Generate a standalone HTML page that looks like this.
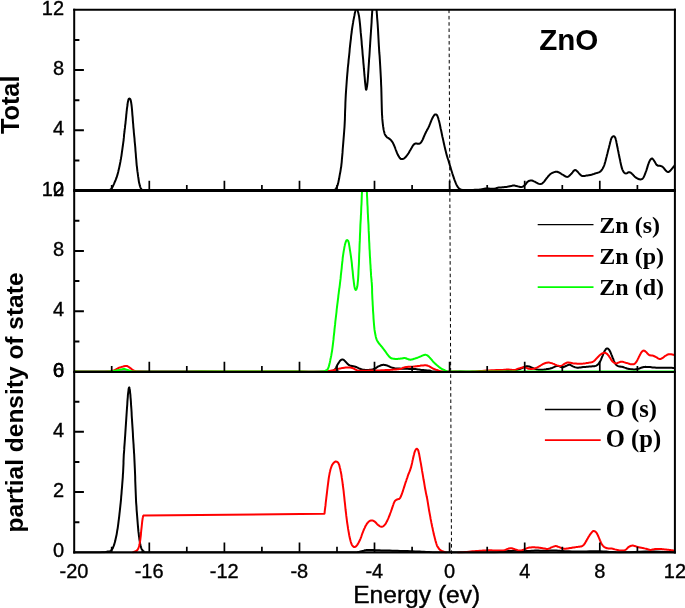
<!DOCTYPE html>
<html lang="en">
<head>
<meta charset="utf-8">
<title>ZnO density of states</title>
<style>
html,body{margin:0;padding:0;background:#fff;}
body{width:685px;height:608px;overflow:hidden;}
svg{display:block;}
</style>
</head>
<body>
<svg width="685" height="608" viewBox="0 0 685 608">
<defs>
<clipPath id="c1"><rect x="74.2" y="9.8" width="600.7" height="181.7"/></clipPath>
<clipPath id="c2"><rect x="74.2" y="190.5" width="600.7" height="182.1"/></clipPath>
<clipPath id="c3"><rect x="74.2" y="371.6" width="600.7" height="181.7"/></clipPath>
</defs>
<rect width="685" height="608" fill="#fff"/>
<line x1="449.0" y1="9.6" x2="451.5" y2="553.9" stroke="#000" stroke-width="1" stroke-dasharray="3.55 2.738" fill="none"/>
<g id="panel1">
<path d="M74.2 190.3 L77.9 190.3 L83.2 190.3 L89.3 190.3 L95.5 190.3 L101.0 190.3 L105.0 190.3 L107.3 190.3 L108.6 190.2 L109.1 190.2 L109.2 190.1 L109.3 190.0 L109.6 189.9 L110.1 189.7 L110.5 189.6 L110.8 189.3 L111.1 189.1 L111.4 188.7 L111.8 188.2 L112.2 187.6 L112.6 186.8 L113.0 186.0 L113.4 185.1 L113.9 184.1 L114.3 183.1 L114.7 182.1 L115.2 181.0 L115.7 179.9 L116.1 178.7 L116.6 177.5 L117.0 176.2 L117.4 174.9 L117.8 173.5 L118.2 172.0 L118.5 170.5 L118.9 169.1 L119.2 167.6 L119.5 166.2 L119.8 164.7 L120.1 163.3 L120.4 161.9 L120.6 160.4 L120.9 159.0 L121.1 157.6 L121.4 156.1 L121.6 154.7 L121.8 153.2 L122.0 151.7 L122.2 150.3 L122.4 148.9 L122.6 147.4 L122.8 146.0 L123.0 144.6 L123.2 143.1 L123.4 141.7 L123.6 140.3 L123.7 138.8 L123.9 137.4 L124.0 136.0 L124.1 134.5 L124.3 133.1 L124.5 131.7 L124.6 130.2 L124.8 128.8 L125.0 127.4 L125.1 125.9 L125.3 124.5 L125.5 123.1 L125.6 121.6 L125.8 120.2 L125.9 118.7 L126.1 117.3 L126.2 115.9 L126.3 114.5 L126.5 113.1 L126.6 111.7 L126.8 110.3 L126.9 108.9 L127.1 107.6 L127.3 106.3 L127.5 105.0 L127.6 103.7 L127.8 102.5 L128.0 101.5 L128.2 100.6 L128.4 99.9 L128.6 99.4 L128.7 99.0 L128.9 98.8 L129.1 98.6 L129.3 98.6 L129.5 98.6 L129.8 98.7 L130.0 99.0 L130.3 99.3 L130.6 99.9 L130.8 100.7 L131.0 101.7 L131.2 102.8 L131.4 104.2 L131.6 105.7 L131.8 107.5 L132.0 109.6 L132.2 112.0 L132.4 114.9 L132.7 117.9 L132.9 121.1 L133.2 124.3 L133.4 127.3 L133.7 130.2 L133.9 133.0 L134.2 135.9 L134.5 138.7 L134.7 141.6 L135.0 144.5 L135.3 147.6 L135.5 150.8 L135.8 154.0 L136.0 157.2 L136.3 160.2 L136.5 162.9 L136.7 165.3 L137.0 167.4 L137.2 169.4 L137.4 171.2 L137.7 173.0 L137.9 174.7 L138.1 176.4 L138.4 178.0 L138.6 179.5 L138.8 181.0 L139.0 182.3 L139.3 183.5 L139.6 184.6 L139.8 185.6 L140.1 186.5 L140.4 187.3 L140.7 188.0 L141.0 188.6 L141.3 189.1 L141.6 189.4 L141.9 189.7 L142.2 189.8 L142.6 190.0 L143.0 190.1 L142.9 190.2 L142.0 190.3 L141.2 190.3 L141.2 190.3 L142.5 190.3 L146.0 190.3 L151.5 190.3 L158.5 190.3 L166.9 190.3 L176.7 190.3 L187.7 190.3 L200.0 190.3 L214.8 190.3 L232.5 190.3 L251.4 190.3 L270.1 190.3 L286.8 190.3 L300.0 190.3 L309.5 190.3 L316.4 190.3 L321.5 190.3 L325.2 190.4 L328.2 190.3 L331.0 190.3 L333.3 190.2 L334.4 190.2 L334.8 190.1 L334.8 190.0 L334.8 189.8 L335.0 189.6 L335.4 189.4 L335.7 189.1 L336.0 188.8 L336.2 188.4 L336.4 188.0 L336.6 187.5 L336.9 187.0 L337.1 186.5 L337.3 185.9 L337.6 185.3 L337.8 184.4 L338.1 183.4 L338.4 182.1 L338.7 180.5 L339.1 178.8 L339.4 176.9 L339.7 175.2 L340.0 173.5 L340.3 172.1 L340.5 170.8 L340.7 169.6 L340.9 168.2 L341.2 166.6 L341.4 164.6 L341.7 162.1 L341.9 159.3 L342.2 156.2 L342.5 152.9 L342.7 149.5 L343.0 146.0 L343.3 142.4 L343.6 138.7 L343.9 134.9 L344.2 131.0 L344.5 127.0 L344.7 123.1 L344.9 119.1 L345.0 115.1 L345.1 111.1 L345.3 107.0 L345.4 102.9 L345.6 98.8 L345.8 94.6 L346.1 90.3 L346.4 86.0 L346.7 81.7 L347.0 77.7 L347.3 74.1 L347.6 70.9 L347.8 68.0 L348.1 65.3 L348.4 62.8 L348.6 60.2 L348.9 57.6 L349.2 54.8 L349.5 52.0 L349.7 49.2 L350.0 46.4 L350.3 43.7 L350.6 41.2 L350.9 38.8 L351.1 36.4 L351.4 34.2 L351.7 32.0 L351.9 30.0 L352.2 28.0 L352.5 26.1 L352.8 24.4 L353.1 22.7 L353.3 21.1 L353.6 19.6 L353.9 18.1 L354.2 16.6 L354.5 15.2 L354.7 13.8 L355.0 12.5 L355.3 11.3 L355.5 10.2 L355.7 9.2 L355.9 8.2 L356.1 7.3 L356.3 6.6 L356.4 6.2 L356.6 6.0 L356.8 6.2 L356.9 6.6 L357.1 7.3 L357.3 8.2 L357.5 9.2 L357.7 10.2 L357.9 11.3 L358.2 12.4 L358.5 13.7 L358.8 15.1 L359.1 16.5 L359.3 18.1 L359.5 19.7 L359.7 21.4 L359.9 23.2 L360.1 25.1 L360.3 27.3 L360.5 29.6 L360.7 32.2 L361.0 35.1 L361.3 38.2 L361.6 41.4 L361.8 44.6 L362.1 47.7 L362.4 50.7 L362.6 53.8 L362.9 56.9 L363.2 59.9 L363.4 62.9 L363.7 65.8 L363.9 68.7 L364.2 71.8 L364.4 74.7 L364.7 77.5 L364.9 80.1 L365.1 82.3 L365.3 84.2 L365.5 86.0 L365.7 87.5 L365.8 88.7 L366.0 89.4 L366.2 89.7 L366.4 89.4 L366.6 88.7 L366.8 87.5 L367.1 86.0 L367.3 84.2 L367.5 82.3 L367.7 80.1 L367.9 77.6 L368.1 74.8 L368.3 71.9 L368.5 68.8 L368.7 65.8 L368.9 62.7 L369.1 59.4 L369.4 56.0 L369.6 52.7 L369.8 49.3 L370.0 46.1 L370.2 43.0 L370.4 39.9 L370.6 36.9 L370.8 34.0 L371.0 31.0 L371.2 28.0 L371.4 25.1 L371.6 22.2 L371.7 19.4 L371.9 16.4 L372.1 13.4 L372.3 10.2 L372.5 6.6 L372.7 2.5 L372.9 -1.6 L373.1 -5.6 L373.3 -9.2 L373.5 -12.0 L373.7 -14.1 L373.8 -15.6 L374.0 -16.8 L374.2 -17.5 L374.3 -17.9 L374.5 -18.0 L374.7 -17.9 L374.8 -17.5 L375.0 -16.8 L375.2 -15.6 L375.3 -14.1 L375.5 -12.0 L375.7 -9.1 L375.9 -5.5 L376.0 -1.4 L376.2 2.8 L376.4 6.8 L376.6 10.2 L376.8 13.0 L377.0 15.3 L377.1 17.5 L377.3 19.6 L377.5 22.0 L377.7 24.7 L377.9 27.9 L378.1 31.4 L378.3 35.1 L378.5 38.8 L378.7 42.6 L378.9 46.1 L379.1 49.5 L379.3 52.7 L379.6 55.9 L379.8 59.1 L380.0 62.4 L380.2 65.8 L380.4 69.3 L380.6 73.0 L380.8 76.7 L381.0 80.4 L381.1 84.2 L381.3 88.0 L381.4 91.9 L381.5 96.1 L381.6 100.3 L381.7 104.3 L381.8 108.1 L381.9 111.4 L382.0 114.2 L382.2 116.7 L382.3 118.9 L382.5 120.9 L382.7 122.8 L382.9 124.6 L383.1 126.4 L383.4 128.0 L383.6 129.5 L383.9 130.9 L384.2 132.1 L384.5 133.2 L384.8 134.1 L385.1 134.8 L385.4 135.3 L385.7 135.8 L386.1 136.2 L386.5 136.7 L387.0 137.2 L387.5 137.6 L388.1 137.9 L388.7 138.3 L389.3 138.7 L389.8 139.1 L390.3 139.5 L390.7 139.9 L391.1 140.3 L391.5 140.8 L391.9 141.3 L392.3 141.9 L392.7 142.6 L393.1 143.3 L393.5 144.1 L393.9 145.0 L394.3 145.9 L394.7 146.8 L395.1 147.8 L395.5 149.0 L395.9 150.1 L396.4 151.3 L396.8 152.4 L397.2 153.4 L397.6 154.3 L398.0 155.1 L398.5 155.9 L398.9 156.6 L399.3 157.3 L399.7 157.8 L400.1 158.2 L400.4 158.6 L400.7 158.8 L401.1 159.0 L401.4 159.1 L401.8 159.1 L402.2 159.1 L402.7 159.0 L403.1 158.9 L403.6 158.7 L404.1 158.4 L404.6 158.0 L405.1 157.5 L405.7 157.0 L406.2 156.4 L406.8 155.7 L407.3 155.0 L407.9 154.2 L408.5 153.3 L409.0 152.4 L409.6 151.3 L410.2 150.3 L410.7 149.4 L411.2 148.5 L411.7 147.7 L412.1 147.0 L412.5 146.3 L412.9 145.7 L413.3 145.2 L413.7 144.7 L414.1 144.3 L414.4 144.0 L414.8 143.8 L415.1 143.6 L415.4 143.5 L415.8 143.4 L416.2 143.4 L416.6 143.4 L417.0 143.6 L417.3 143.7 L417.7 143.8 L418.1 143.8 L418.5 143.8 L418.8 143.8 L419.2 143.7 L419.5 143.6 L419.8 143.5 L420.2 143.2 L420.6 142.9 L420.9 142.5 L421.3 142.1 L421.6 141.5 L422.0 140.9 L422.4 140.2 L422.8 139.3 L423.3 138.3 L423.7 137.2 L424.2 136.0 L424.7 134.8 L425.2 133.7 L425.7 132.7 L426.3 131.6 L426.8 130.6 L427.4 129.6 L427.9 128.5 L428.5 127.4 L429.1 126.2 L429.6 124.8 L430.2 123.4 L430.7 122.1 L431.2 120.8 L431.7 119.7 L432.1 118.8 L432.5 118.0 L432.9 117.2 L433.2 116.6 L433.6 116.1 L433.9 115.6 L434.2 115.2 L434.5 114.9 L434.7 114.7 L435.0 114.5 L435.2 114.4 L435.5 114.4 L435.8 114.4 L436.1 114.5 L436.3 114.6 L436.6 114.8 L436.9 115.1 L437.2 115.6 L437.5 116.2 L437.8 117.0 L438.1 117.8 L438.4 118.8 L438.7 120.0 L439.1 121.3 L439.5 122.9 L439.9 124.7 L440.3 126.7 L440.7 128.8 L441.2 130.8 L441.6 132.8 L442.0 134.7 L442.4 136.7 L442.9 138.7 L443.3 140.6 L443.7 142.5 L444.1 144.3 L444.5 146.1 L444.9 147.8 L445.3 149.5 L445.7 151.1 L446.1 152.7 L446.5 154.2 L446.9 155.7 L447.3 157.1 L447.7 158.4 L448.2 159.7 L448.6 161.0 L449.0 162.4 L449.4 163.8 L449.8 165.2 L450.3 166.6 L450.7 168.0 L451.1 169.4 L451.5 170.7 L451.9 172.0 L452.3 173.3 L452.7 174.5 L453.1 175.7 L453.5 176.9 L453.9 178.1 L454.3 179.3 L454.7 180.4 L455.2 181.6 L455.6 182.7 L456.0 183.7 L456.4 184.6 L456.8 185.4 L457.2 186.0 L457.5 186.6 L457.9 187.1 L458.3 187.6 L458.6 188.0 L458.9 188.4 L459.2 188.7 L459.5 188.9 L459.8 189.2 L460.2 189.3 L460.5 189.5 L460.8 189.6 L461.1 189.7 L461.4 189.8 L461.8 189.8 L462.3 189.9 L463.0 189.9 L463.9 189.9 L464.9 189.9 L466.1 189.9 L467.3 189.9 L468.6 189.9 L470.0 189.9 L471.5 189.9 L473.1 189.9 L474.8 189.8 L476.4 189.8 L478.0 189.7 L479.5 189.6 L480.8 189.4 L482.0 189.2 L483.2 189.0 L484.3 188.8 L485.4 188.6 L486.5 188.5 L487.7 188.5 L488.9 188.6 L490.1 188.7 L491.3 188.8 L492.4 188.8 L493.5 188.8 L494.5 188.7 L495.3 188.5 L496.1 188.3 L497.0 188.0 L497.8 187.8 L498.8 187.6 L499.9 187.5 L501.1 187.4 L502.4 187.3 L503.6 187.2 L504.8 187.1 L505.8 187.0 L506.7 186.9 L507.5 186.7 L508.2 186.6 L508.9 186.5 L509.5 186.3 L510.2 186.2 L510.8 186.1 L511.4 185.9 L512.0 185.8 L512.6 185.6 L513.1 185.5 L513.7 185.5 L514.3 185.5 L514.8 185.6 L515.4 185.8 L516.0 185.9 L516.6 186.1 L517.2 186.2 L517.9 186.4 L518.6 186.6 L519.4 186.8 L520.2 187.0 L520.9 187.1 L521.6 187.1 L522.2 186.9 L522.9 186.6 L523.5 186.2 L524.0 185.7 L524.6 185.3 L525.1 184.8 L525.6 184.3 L526.0 183.8 L526.4 183.2 L526.8 182.6 L527.2 182.1 L527.7 181.7 L528.2 181.3 L528.8 181.0 L529.4 180.8 L530.0 180.6 L530.6 180.4 L531.2 180.4 L531.8 180.5 L532.3 180.6 L532.8 180.8 L533.4 181.1 L534.0 181.4 L534.7 181.7 L535.5 182.1 L536.4 182.6 L537.4 183.1 L538.3 183.6 L539.2 183.9 L540.0 184.1 L540.7 184.1 L541.3 183.9 L541.9 183.6 L542.4 183.2 L542.9 182.7 L543.5 182.2 L544.1 181.6 L544.7 180.9 L545.2 180.1 L545.8 179.3 L546.4 178.5 L547.0 177.8 L547.6 177.1 L548.1 176.4 L548.7 175.8 L549.3 175.1 L549.9 174.5 L550.5 174.0 L551.2 173.5 L551.9 173.1 L552.7 172.7 L553.5 172.4 L554.2 172.1 L554.9 171.9 L555.5 171.8 L556.1 171.7 L556.7 171.8 L557.2 171.8 L557.8 172.0 L558.4 172.2 L559.1 172.5 L559.8 172.9 L560.5 173.3 L561.2 173.8 L562.0 174.3 L562.7 174.7 L563.5 175.1 L564.2 175.6 L565.0 176.1 L565.8 176.6 L566.6 176.8 L567.3 176.9 L568.0 176.7 L568.7 176.3 L569.3 175.8 L569.9 175.2 L570.5 174.6 L571.1 174.0 L571.6 173.5 L572.1 172.9 L572.6 172.3 L573.0 171.7 L573.4 171.2 L573.8 170.8 L574.1 170.5 L574.4 170.3 L574.7 170.2 L574.9 170.1 L575.2 170.1 L575.5 170.1 L575.8 170.2 L576.2 170.4 L576.5 170.7 L576.9 171.0 L577.2 171.3 L577.6 171.7 L578.0 172.1 L578.3 172.5 L578.7 173.0 L579.1 173.5 L579.5 173.9 L579.9 174.3 L580.3 174.7 L580.7 175.0 L581.1 175.4 L581.5 175.7 L582.0 175.9 L582.5 176.1 L583.1 176.1 L583.8 176.1 L584.6 176.0 L585.4 175.8 L586.1 175.6 L586.9 175.5 L587.6 175.4 L588.4 175.3 L589.1 175.2 L589.8 175.1 L590.6 175.0 L591.3 174.8 L592.0 174.6 L592.8 174.3 L593.6 174.1 L594.3 173.8 L595.0 173.5 L595.7 173.3 L596.3 173.1 L597.0 172.9 L597.6 172.8 L598.1 172.6 L598.7 172.4 L599.2 172.2 L599.7 171.9 L600.1 171.6 L600.6 171.3 L601.0 170.9 L601.4 170.5 L601.8 169.9 L602.2 169.3 L602.7 168.5 L603.1 167.8 L603.5 166.9 L604.0 165.9 L604.4 164.7 L604.8 163.4 L605.3 161.8 L605.7 160.2 L606.1 158.5 L606.6 156.7 L607.0 155.0 L607.5 153.2 L607.9 151.4 L608.4 149.5 L608.9 147.7 L609.3 146.0 L609.7 144.5 L610.0 143.2 L610.3 142.0 L610.6 140.9 L610.8 140.0 L611.1 139.1 L611.4 138.4 L611.7 137.8 L612.1 137.2 L612.4 136.8 L612.8 136.5 L613.2 136.4 L613.5 136.3 L613.8 136.3 L614.2 136.4 L614.5 136.6 L614.8 137.0 L615.2 137.6 L615.5 138.4 L615.8 139.6 L616.2 141.0 L616.5 142.7 L616.9 144.5 L617.2 146.3 L617.6 148.0 L617.9 149.7 L618.3 151.5 L618.6 153.2 L619.0 155.0 L619.3 156.8 L619.7 158.5 L620.1 160.2 L620.4 162.0 L620.8 163.7 L621.2 165.4 L621.5 166.9 L621.9 168.2 L622.3 169.3 L622.7 170.2 L623.1 171.0 L623.4 171.6 L623.8 172.1 L624.2 172.6 L624.6 173.0 L624.9 173.2 L625.2 173.3 L625.6 173.4 L625.9 173.4 L626.3 173.4 L626.7 173.3 L627.1 173.1 L627.6 172.8 L628.0 172.5 L628.5 172.3 L628.9 172.2 L629.3 172.2 L629.8 172.3 L630.2 172.5 L630.6 172.7 L631.1 173.0 L631.6 173.4 L632.1 173.9 L632.7 174.4 L633.3 175.1 L633.9 175.8 L634.5 176.4 L635.1 176.9 L635.7 177.4 L636.3 177.8 L636.9 178.2 L637.5 178.5 L638.0 178.8 L638.6 179.0 L639.2 179.2 L639.7 179.3 L640.2 179.4 L640.8 179.4 L641.2 179.3 L641.7 179.2 L642.1 179.0 L642.5 178.7 L642.8 178.4 L643.1 178.0 L643.5 177.5 L643.8 176.9 L644.1 176.2 L644.5 175.4 L644.8 174.6 L645.2 173.7 L645.5 172.7 L645.9 171.7 L646.3 170.6 L646.7 169.4 L647.1 168.1 L647.5 166.9 L647.8 165.7 L648.2 164.7 L648.5 163.8 L648.8 162.9 L649.1 162.2 L649.4 161.5 L649.7 160.9 L650.0 160.3 L650.3 159.8 L650.7 159.3 L651.0 159.0 L651.4 158.7 L651.7 158.5 L652.1 158.5 L652.5 158.7 L652.8 159.0 L653.2 159.5 L653.6 160.0 L654.0 160.6 L654.4 161.2 L654.8 161.8 L655.2 162.6 L655.6 163.3 L656.1 164.1 L656.5 164.7 L657.0 165.2 L657.5 165.5 L658.1 165.7 L658.8 165.7 L659.4 165.7 L660.0 165.8 L660.5 165.9 L661.0 166.1 L661.4 166.2 L661.9 166.4 L662.3 166.7 L662.7 167.0 L663.1 167.3 L663.5 167.7 L664.0 168.3 L664.4 168.9 L664.8 169.5 L665.3 170.0 L665.7 170.5 L666.1 170.9 L666.6 171.3 L667.1 171.6 L667.5 171.8 L668.0 172.0 L668.4 172.0 L668.8 171.9 L669.2 171.7 L669.6 171.4 L670.0 170.9 L670.5 170.5 L671.0 169.9 L671.6 169.2 L672.3 168.3 L673.1 167.3 L673.8 166.4 L674.5 165.6 L674.9 165.0" fill="none" stroke="#000" stroke-width="2.0" stroke-linejoin="round" stroke-linecap="round" clip-path="url(#c1)"/>
</g>
<g id="panel2">
<path d="M74.2 371.6 L87.9 371.6 L106.7 371.6 L129.1 371.6 L153.2 371.6 L177.5 371.6 L200.0 371.6 L222.6 371.7 L247.1 371.7 L271.6 371.7 L294.4 371.7 L313.8 371.7 L328.0 371.6 L335.9 371.6 L338.6 371.5 L338.0 371.4 L335.6 371.3 L333.1 371.1 L332.3 370.9 L332.9 370.7 L333.4 370.4 L333.9 370.1 L334.4 369.8 L334.8 369.4 L335.2 369.0 L335.6 368.5 L335.9 368.0 L336.2 367.4 L336.4 366.9 L336.7 366.3 L337.0 365.7 L337.3 365.1 L337.6 364.6 L337.9 364.0 L338.3 363.4 L338.6 362.9 L338.9 362.4 L339.2 362.0 L339.5 361.5 L339.8 361.1 L340.1 360.8 L340.4 360.5 L340.7 360.2 L341.0 360.0 L341.3 359.8 L341.6 359.7 L341.8 359.6 L342.1 359.5 L342.4 359.5 L342.7 359.5 L343.0 359.6 L343.2 359.7 L343.5 359.8 L343.8 360.0 L344.1 360.2 L344.4 360.5 L344.8 360.8 L345.1 361.2 L345.5 361.6 L345.8 362.0 L346.2 362.4 L346.6 362.8 L346.9 363.2 L347.3 363.6 L347.7 363.9 L348.0 364.3 L348.4 364.6 L348.7 364.9 L349.0 365.1 L349.4 365.2 L349.7 365.4 L350.1 365.6 L350.5 365.7 L351.0 365.8 L351.6 366.0 L352.3 366.1 L353.0 366.2 L353.6 366.3 L354.2 366.4 L354.7 366.5 L355.2 366.7 L355.7 366.9 L356.2 367.0 L356.6 367.2 L357.1 367.4 L357.6 367.6 L358.1 367.9 L358.5 368.1 L359.0 368.4 L359.5 368.6 L360.0 368.8 L360.5 369.0 L360.9 369.2 L361.4 369.3 L361.9 369.5 L362.4 369.6 L363.0 369.7 L363.6 369.8 L364.3 369.8 L365.1 369.9 L365.8 369.9 L366.6 369.9 L367.3 369.9 L368.0 369.9 L368.8 369.9 L369.6 369.8 L370.3 369.8 L371.0 369.7 L371.7 369.6 L372.3 369.5 L372.9 369.4 L373.4 369.2 L373.9 369.0 L374.5 368.8 L375.0 368.6 L375.6 368.3 L376.1 367.9 L376.6 367.5 L377.2 367.1 L377.8 366.7 L378.4 366.4 L379.1 366.1 L379.8 365.8 L380.5 365.5 L381.2 365.2 L381.9 365.0 L382.6 364.9 L383.2 364.8 L383.8 364.8 L384.3 364.9 L384.8 365.0 L385.3 365.1 L385.8 365.2 L386.3 365.3 L386.7 365.4 L387.1 365.6 L387.6 365.7 L388.0 365.9 L388.5 366.1 L389.0 366.3 L389.6 366.6 L390.1 366.9 L390.7 367.1 L391.3 367.4 L392.0 367.6 L392.7 367.8 L393.3 368.0 L394.0 368.1 L394.7 368.3 L395.6 368.4 L396.7 368.5 L398.0 368.6 L399.5 368.6 L401.1 368.7 L402.7 368.7 L404.4 368.8 L406.0 368.8 L407.6 368.8 L409.2 368.9 L410.8 368.9 L412.4 369.0 L414.0 369.0 L415.4 369.1 L416.7 369.2 L417.9 369.4 L419.0 369.5 L420.2 369.7 L421.3 369.9 L422.4 370.0 L423.6 370.1 L424.7 370.2 L425.9 370.3 L427.1 370.4 L428.2 370.5 L429.4 370.6 L430.4 370.8 L431.1 371.0 L431.9 371.2 L432.8 371.4 L434.3 371.5 L436.4 371.6 L439.2 371.7 L442.4 371.7 L446.1 371.7 L450.3 371.7 L454.9 371.7 L460.0 371.6 L466.1 371.7 L473.3 371.7 L480.9 371.7 L488.4 371.7 L494.9 371.7 L500.0 371.6 L503.3 371.5 L505.4 371.3 L506.7 371.1 L507.4 370.9 L508.1 370.7 L509.0 370.6 L510.1 370.5 L511.1 370.5 L512.0 370.5 L512.9 370.4 L513.7 370.4 L514.6 370.3 L515.5 370.2 L516.4 370.0 L517.2 369.8 L518.1 369.6 L518.9 369.4 L519.8 369.1 L520.7 368.7 L521.6 368.3 L522.6 367.8 L523.5 367.3 L524.3 366.9 L525.1 366.6 L525.8 366.4 L526.4 366.3 L527.0 366.3 L527.5 366.3 L528.0 366.3 L528.6 366.4 L529.2 366.5 L529.8 366.7 L530.4 366.9 L530.9 367.2 L531.5 367.5 L532.1 367.7 L532.7 367.9 L533.2 368.2 L533.8 368.4 L534.4 368.7 L535.0 368.9 L535.6 369.1 L536.3 369.3 L536.9 369.4 L537.6 369.6 L538.4 369.7 L539.2 369.8 L540.0 369.8 L540.9 369.8 L541.9 369.8 L542.9 369.7 L543.9 369.6 L545.0 369.4 L546.0 369.3 L547.0 369.1 L548.1 368.9 L549.2 368.7 L550.2 368.5 L551.1 368.2 L552.0 368.0 L552.7 367.7 L553.4 367.4 L553.9 367.1 L554.5 366.9 L555.0 366.6 L555.5 366.4 L556.0 366.2 L556.5 366.1 L557.0 366.0 L557.4 365.9 L557.9 365.9 L558.4 365.9 L558.9 366.1 L559.5 366.3 L560.1 366.6 L560.7 366.9 L561.3 367.2 L561.9 367.3 L562.5 367.3 L563.0 367.2 L563.6 367.0 L564.2 366.8 L564.8 366.5 L565.4 366.3 L566.0 366.0 L566.7 365.7 L567.4 365.3 L568.1 365.0 L568.8 364.8 L569.4 364.7 L570.0 364.8 L570.6 365.0 L571.1 365.4 L571.7 365.7 L572.3 366.1 L572.9 366.4 L573.6 366.7 L574.2 366.9 L574.9 367.2 L575.6 367.4 L576.4 367.6 L577.3 367.7 L578.3 367.7 L579.4 367.6 L580.6 367.5 L581.9 367.3 L583.1 367.1 L584.3 367.0 L585.5 366.9 L586.7 366.8 L588.0 366.7 L589.2 366.6 L590.3 366.5 L591.3 366.4 L592.2 366.3 L593.0 366.3 L593.7 366.3 L594.4 366.2 L595.0 366.1 L595.7 365.9 L596.3 365.6 L597.0 365.2 L597.6 364.7 L598.1 364.2 L598.7 363.6 L599.2 362.9 L599.7 362.2 L600.1 361.4 L600.6 360.5 L601.0 359.6 L601.4 358.6 L601.8 357.7 L602.2 356.7 L602.7 355.6 L603.1 354.5 L603.5 353.4 L604.0 352.4 L604.4 351.5 L604.8 350.7 L605.3 350.0 L605.7 349.4 L606.1 348.9 L606.6 348.6 L607.0 348.4 L607.4 348.4 L607.9 348.6 L608.4 349.0 L608.8 349.5 L609.3 350.0 L609.7 350.7 L610.1 351.5 L610.6 352.5 L611.0 353.5 L611.4 354.6 L611.9 355.7 L612.3 356.8 L612.7 357.9 L613.2 358.9 L613.6 360.0 L614.0 361.1 L614.5 362.1 L614.9 362.9 L615.3 363.6 L615.7 364.2 L616.1 364.7 L616.5 365.2 L617.0 365.5 L617.6 365.9 L618.3 366.2 L619.1 366.4 L620.0 366.5 L621.0 366.7 L621.9 366.8 L622.8 367.0 L623.7 367.3 L624.5 367.6 L625.4 367.9 L626.3 368.2 L627.2 368.5 L628.1 368.7 L629.1 368.9 L630.1 369.1 L631.2 369.2 L632.3 369.3 L633.3 369.4 L634.2 369.4 L635.0 369.4 L635.8 369.3 L636.5 369.2 L637.1 369.1 L637.8 368.9 L638.6 368.7 L639.4 368.5 L640.3 368.1 L641.1 367.8 L642.0 367.5 L642.9 367.2 L643.8 367.0 L644.7 366.9 L645.5 366.8 L646.3 366.9 L647.2 366.9 L648.1 366.9 L649.1 367.0 L650.2 367.1 L651.3 367.2 L652.5 367.4 L653.7 367.5 L654.9 367.6 L656.1 367.7 L657.3 367.7 L658.4 367.8 L659.6 367.7 L660.8 367.7 L661.9 367.7 L663.1 367.7 L664.3 367.7 L665.5 367.7 L666.7 367.7 L667.9 367.7 L669.1 367.7 L670.1 367.7 L671.1 367.8 L672.0 367.8 L672.9 367.9 L673.7 368.1 L674.4 368.1 L674.9 368.2" fill="none" stroke="#000" stroke-width="2.0" stroke-linejoin="round" stroke-linecap="round" clip-path="url(#c2)"/>
<path d="M74.2 371.6 L78.4 371.7 L84.4 371.7 L91.4 371.7 L98.5 371.7 L104.6 371.7 L109.0 371.6 L111.4 371.6 L112.4 371.5 L112.6 371.4 L112.3 371.3 L112.0 371.2 L112.2 371.0 L112.7 370.8 L113.3 370.6 L113.8 370.4 L114.4 370.1 L114.9 369.9 L115.5 369.6 L116.1 369.3 L116.7 369.0 L117.3 368.7 L117.9 368.3 L118.5 368.0 L119.2 367.7 L119.9 367.4 L120.8 367.2 L121.6 366.9 L122.4 366.7 L123.2 366.5 L123.9 366.3 L124.5 366.2 L125.0 366.0 L125.5 366.0 L125.9 365.9 L126.3 365.9 L126.8 366.0 L127.3 366.1 L127.8 366.4 L128.2 366.6 L128.7 366.9 L129.2 367.3 L129.7 367.6 L130.2 368.0 L130.7 368.4 L131.2 368.8 L131.7 369.2 L132.1 369.6 L132.6 369.9 L133.0 370.2 L133.4 370.4 L133.8 370.6 L134.2 370.7 L134.6 370.9 L135.0 371.0 L134.8 371.1 L133.8 371.3 L132.8 371.4 L132.6 371.5 L134.1 371.6 L138.0 371.6 L144.5 371.7 L152.9 371.7 L162.9 371.7 L174.3 371.7 L186.8 371.7 L200.0 371.6 L215.3 371.6 L233.3 371.6 L252.3 371.6 L270.8 371.6 L287.2 371.6 L300.0 371.6 L308.7 371.7 L314.7 371.7 L318.5 371.7 L321.0 371.7 L322.9 371.7 L325.0 371.6 L326.9 371.6 L328.0 371.5 L328.5 371.3 L328.7 371.2 L328.9 371.0 L329.4 370.9 L330.1 370.8 L330.9 370.7 L331.6 370.6 L332.3 370.5 L333.1 370.4 L333.8 370.2 L334.5 370.0 L335.2 369.8 L335.9 369.6 L336.7 369.3 L337.4 369.1 L338.1 368.9 L338.8 368.7 L339.6 368.6 L340.3 368.4 L341.0 368.3 L341.8 368.1 L342.5 368.0 L343.2 367.9 L344.0 367.8 L344.7 367.7 L345.5 367.6 L346.2 367.5 L346.9 367.5 L347.6 367.5 L348.2 367.5 L348.8 367.5 L349.4 367.5 L349.9 367.5 L350.5 367.6 L351.0 367.7 L351.6 367.8 L352.1 368.0 L352.6 368.1 L353.1 368.3 L353.5 368.5 L353.9 368.7 L354.3 368.9 L354.7 369.1 L355.0 369.3 L355.3 369.5 L355.7 369.7 L356.0 369.9 L356.3 370.0 L356.7 370.2 L357.0 370.3 L357.4 370.4 L357.8 370.5 L358.2 370.6 L358.6 370.7 L359.1 370.7 L359.6 370.8 L360.4 370.8 L361.5 370.8 L363.0 370.8 L364.9 370.7 L367.0 370.7 L369.2 370.6 L371.3 370.6 L373.2 370.5 L374.9 370.5 L376.5 370.4 L378.1 370.4 L379.6 370.4 L381.1 370.3 L382.6 370.3 L384.1 370.2 L385.6 370.1 L387.1 370.1 L388.5 370.0 L389.7 369.9 L390.8 369.8 L391.6 369.7 L392.2 369.7 L392.7 369.7 L393.1 369.6 L393.6 369.6 L394.3 369.5 L395.2 369.4 L396.2 369.4 L397.2 369.3 L398.3 369.2 L399.3 369.1 L400.2 369.0 L400.9 368.8 L401.5 368.6 L402.1 368.3 L402.6 368.0 L403.1 367.8 L403.7 367.6 L404.3 367.4 L404.8 367.3 L405.3 367.2 L405.9 367.1 L406.5 367.0 L407.2 366.9 L408.0 366.8 L409.0 366.8 L409.9 366.8 L411.0 366.8 L412.0 366.8 L413.0 366.7 L414.0 366.6 L414.9 366.5 L415.9 366.3 L416.9 366.2 L417.9 366.0 L418.9 365.9 L420.0 365.8 L421.1 365.6 L422.2 365.5 L423.4 365.4 L424.4 365.3 L425.3 365.3 L426.0 365.3 L426.7 365.4 L427.2 365.5 L427.7 365.7 L428.2 365.9 L428.8 366.1 L429.4 366.4 L430.1 366.8 L430.8 367.2 L431.5 367.7 L432.2 368.1 L432.9 368.5 L433.6 368.8 L434.4 369.1 L435.2 369.4 L436.0 369.7 L436.8 369.9 L437.6 370.2 L438.3 370.5 L438.8 370.8 L439.4 371.0 L440.1 371.3 L441.0 371.5 L442.2 371.6 L443.8 371.7 L445.7 371.8 L447.8 371.7 L450.1 371.7 L452.5 371.7 L455.0 371.6 L457.7 371.7 L460.6 371.7 L463.7 371.7 L466.8 371.7 L469.7 371.7 L472.5 371.6 L475.0 371.5 L477.4 371.3 L479.7 371.1 L482.0 370.9 L484.2 370.7 L486.5 370.5 L488.9 370.4 L491.5 370.3 L494.0 370.2 L496.4 370.1 L498.7 370.1 L500.6 370.0 L502.2 369.9 L503.5 369.8 L504.5 369.7 L505.5 369.7 L506.5 369.6 L507.6 369.6 L508.8 369.6 L510.0 369.7 L511.3 369.8 L512.5 369.9 L513.6 369.9 L514.6 369.9 L515.5 369.7 L516.2 369.5 L516.9 369.2 L517.5 368.9 L518.2 368.6 L518.9 368.4 L519.7 368.2 L520.6 367.9 L521.5 367.7 L522.5 367.5 L523.4 367.3 L524.2 367.3 L525.0 367.4 L525.7 367.6 L526.4 367.9 L527.1 368.2 L527.8 368.5 L528.6 368.7 L529.4 368.8 L530.3 368.9 L531.1 368.9 L532.0 368.9 L532.9 368.8 L533.8 368.7 L534.7 368.5 L535.6 368.1 L536.5 367.7 L537.4 367.3 L538.3 366.8 L539.1 366.4 L539.9 366.0 L540.6 365.5 L541.4 365.0 L542.1 364.6 L542.8 364.2 L543.5 363.8 L544.2 363.5 L545.0 363.2 L545.7 363.0 L546.4 362.8 L547.2 362.7 L547.9 362.6 L548.6 362.6 L549.3 362.6 L550.0 362.8 L550.8 362.9 L551.5 363.1 L552.2 363.3 L552.9 363.6 L553.7 363.9 L554.4 364.2 L555.1 364.6 L555.9 364.9 L556.6 365.2 L557.3 365.4 L558.1 365.6 L558.9 365.8 L559.6 365.9 L560.3 366.0 L561.0 365.9 L561.6 365.7 L562.2 365.4 L562.8 365.0 L563.4 364.5 L563.9 364.1 L564.5 363.8 L565.1 363.5 L565.6 363.2 L566.1 363.0 L566.7 362.7 L567.3 362.6 L568.0 362.5 L568.8 362.5 L569.7 362.7 L570.7 362.8 L571.7 363.1 L572.7 363.3 L573.8 363.4 L574.9 363.5 L576.0 363.6 L577.2 363.7 L578.4 363.8 L579.6 363.8 L580.8 363.8 L582.0 363.7 L583.2 363.6 L584.4 363.4 L585.6 363.3 L586.7 363.1 L587.8 362.9 L588.8 362.7 L589.7 362.6 L590.6 362.4 L591.5 362.3 L592.3 362.0 L593.0 361.7 L593.7 361.3 L594.3 360.8 L594.9 360.2 L595.4 359.7 L595.9 359.1 L596.5 358.5 L597.1 357.9 L597.7 357.3 L598.2 356.7 L598.8 356.1 L599.4 355.5 L600.0 355.0 L600.6 354.5 L601.2 354.1 L601.8 353.7 L602.4 353.4 L603.0 353.1 L603.5 352.9 L604.0 352.8 L604.5 352.8 L604.9 352.8 L605.3 352.9 L605.8 353.1 L606.2 353.3 L606.6 353.6 L607.0 353.9 L607.5 354.3 L607.9 354.8 L608.3 355.3 L608.8 355.9 L609.3 356.7 L609.9 357.6 L610.5 358.6 L611.1 359.6 L611.7 360.5 L612.3 361.2 L612.9 361.8 L613.5 362.3 L614.1 362.7 L614.7 363.0 L615.3 363.2 L615.8 363.4 L616.3 363.4 L616.7 363.4 L617.1 363.2 L617.5 363.0 L617.9 362.8 L618.4 362.6 L618.9 362.4 L619.5 362.2 L620.0 362.0 L620.6 361.8 L621.3 361.7 L621.9 361.7 L622.6 361.8 L623.3 361.9 L624.0 362.2 L624.7 362.4 L625.5 362.7 L626.3 362.9 L627.2 363.1 L628.1 363.4 L629.0 363.7 L629.9 364.0 L630.8 364.2 L631.6 364.3 L632.3 364.3 L632.9 364.3 L633.5 364.2 L634.1 364.0 L634.6 363.8 L635.1 363.4 L635.6 362.9 L636.0 362.3 L636.5 361.7 L636.9 360.9 L637.3 360.2 L637.7 359.4 L638.1 358.6 L638.6 357.7 L639.0 356.7 L639.5 355.8 L639.9 355.0 L640.3 354.2 L640.7 353.5 L641.0 352.9 L641.4 352.4 L641.7 351.9 L642.1 351.5 L642.4 351.2 L642.7 350.9 L643.0 350.8 L643.3 350.7 L643.6 350.6 L643.9 350.6 L644.2 350.7 L644.6 350.8 L644.9 351.1 L645.3 351.4 L645.7 351.7 L646.1 352.0 L646.5 352.4 L646.9 352.8 L647.3 353.3 L647.7 353.8 L648.2 354.2 L648.6 354.7 L649.1 355.0 L649.6 355.2 L650.2 355.3 L650.8 355.4 L651.4 355.4 L652.0 355.5 L652.6 355.6 L653.2 355.8 L653.8 356.0 L654.4 356.3 L654.9 356.5 L655.5 356.8 L656.1 357.1 L656.7 357.4 L657.3 357.8 L657.9 358.3 L658.5 358.6 L659.1 358.9 L659.6 359.1 L660.1 359.1 L660.5 359.1 L660.9 358.9 L661.3 358.7 L661.7 358.5 L662.2 358.2 L662.7 357.9 L663.3 357.4 L663.9 356.9 L664.5 356.4 L665.1 356.0 L665.7 355.6 L666.3 355.3 L666.8 355.0 L667.3 354.7 L667.9 354.5 L668.5 354.3 L669.2 354.2 L670.1 354.2 L671.1 354.3 L672.3 354.5 L673.3 354.7 L674.3 354.9 L674.9 355.0" fill="none" stroke="#f00" stroke-width="2.0" stroke-linejoin="round" stroke-linecap="round" clip-path="url(#c2)"/>
<path d="M74.2 371.6 L78.5 371.7 L84.7 371.7 L91.9 371.7 L99.1 371.7 L105.5 371.7 L110.0 371.6 L112.4 371.6 L113.5 371.5 L113.6 371.4 L113.4 371.3 L113.2 371.1 L113.5 371.0 L114.3 370.9 L115.2 370.7 L116.2 370.5 L117.1 370.3 L118.1 370.2 L119.0 370.0 L119.9 369.8 L120.7 369.6 L121.6 369.4 L122.4 369.2 L123.2 369.1 L123.9 369.0 L124.6 369.1 L125.2 369.2 L125.8 369.4 L126.4 369.6 L126.9 369.8 L127.5 370.0 L128.1 370.2 L128.7 370.3 L129.2 370.5 L129.8 370.7 L130.4 370.9 L130.9 371.0 L130.7 371.1 L129.6 371.3 L128.5 371.4 L128.3 371.5 L129.8 371.6 L134.0 371.6 L141.0 371.7 L150.1 371.7 L160.9 371.7 L173.2 371.7 L186.3 371.7 L200.0 371.6 L215.6 371.6 L233.7 371.6 L252.8 371.6 L271.3 371.6 L287.5 371.6 L300.0 371.6 L308.3 371.7 L313.5 371.7 L316.4 371.7 L318.1 371.7 L319.4 371.7 L321.0 371.6 L322.8 371.5 L323.9 371.4 L324.6 371.2 L325.0 371.0 L325.3 370.8 L325.8 370.5 L326.3 370.2 L326.8 370.0 L327.2 369.7 L327.5 369.3 L327.9 368.8 L328.2 368.1 L328.6 367.2 L328.9 366.2 L329.2 365.0 L329.5 363.7 L329.9 362.2 L330.2 360.7 L330.5 359.0 L330.9 357.3 L331.3 355.4 L331.6 353.4 L332.0 351.3 L332.3 349.1 L332.6 346.8 L332.9 344.4 L333.2 341.9 L333.5 339.4 L333.7 336.8 L334.0 334.3 L334.3 331.8 L334.5 329.4 L334.8 326.9 L335.1 324.4 L335.3 322.0 L335.6 319.5 L335.9 317.0 L336.2 314.5 L336.5 312.0 L336.7 309.5 L337.0 307.1 L337.3 304.7 L337.6 302.3 L337.9 299.9 L338.2 297.6 L338.4 295.3 L338.7 293.3 L338.9 291.5 L339.1 290.1 L339.2 289.2 L339.3 288.4 L339.5 287.6 L339.6 286.6 L339.8 285.1 L340.0 283.2 L340.3 280.9 L340.6 278.4 L340.8 275.8 L341.1 273.1 L341.4 270.6 L341.7 268.1 L341.9 265.5 L342.2 262.9 L342.5 260.4 L342.7 258.0 L343.0 255.8 L343.3 253.8 L343.6 251.9 L343.9 250.2 L344.2 248.6 L344.4 247.2 L344.7 245.9 L344.9 244.8 L345.2 243.8 L345.4 243.1 L345.6 242.4 L345.8 241.8 L346.0 241.3 L346.2 240.9 L346.4 240.5 L346.6 240.3 L346.8 240.2 L347.0 240.1 L347.2 240.1 L347.4 240.2 L347.6 240.3 L347.9 240.5 L348.1 240.8 L348.3 241.2 L348.5 241.8 L348.7 242.5 L348.9 243.2 L349.0 244.1 L349.2 245.1 L349.4 246.3 L349.6 247.6 L349.8 249.1 L350.1 250.9 L350.4 252.8 L350.7 254.8 L351.0 256.9 L351.3 259.1 L351.6 261.4 L351.9 263.9 L352.1 266.5 L352.4 269.1 L352.7 271.6 L352.9 273.9 L353.1 276.0 L353.3 278.1 L353.6 280.1 L353.8 282.0 L354.0 283.6 L354.2 285.1 L354.4 286.4 L354.7 287.5 L354.9 288.5 L355.2 289.2 L355.4 289.7 L355.7 289.9 L356.0 289.8 L356.3 289.5 L356.6 288.9 L356.9 288.0 L357.2 286.8 L357.5 285.1 L357.7 282.9 L358.0 280.2 L358.2 277.1 L358.4 273.9 L358.5 270.5 L358.7 267.3 L358.9 264.1 L359.0 260.9 L359.1 257.6 L359.2 254.2 L359.4 250.9 L359.5 247.6 L359.6 244.3 L359.8 240.9 L359.9 237.6 L360.0 234.3 L360.2 231.0 L360.3 227.8 L360.4 224.7 L360.6 221.6 L360.8 218.6 L360.9 215.6 L361.1 212.7 L361.2 209.7 L361.3 206.8 L361.5 204.1 L361.6 201.3 L361.7 198.5 L361.8 195.4 L362.0 191.9 L362.2 187.7 L362.4 183.0 L362.6 178.0 L362.8 173.1 L363.0 168.6 L363.2 165.0 L363.4 162.1 L363.6 159.7 L363.8 157.7 L364.1 156.2 L364.3 155.3 L364.5 155.0 L364.7 155.3 L364.9 156.2 L365.2 157.7 L365.4 159.7 L365.6 162.1 L365.8 165.0 L366.0 168.6 L366.2 173.1 L366.4 178.0 L366.6 183.0 L366.7 187.7 L366.9 191.9 L367.0 195.4 L367.2 198.5 L367.3 201.3 L367.4 204.1 L367.6 206.8 L367.7 209.7 L367.8 212.7 L368.0 215.7 L368.1 218.7 L368.3 221.8 L368.5 224.8 L368.6 227.8 L368.7 230.9 L368.9 234.0 L369.0 237.1 L369.1 240.1 L369.3 243.1 L369.4 245.9 L369.5 248.6 L369.7 251.1 L369.8 253.6 L369.9 256.0 L370.1 258.4 L370.2 260.7 L370.3 263.0 L370.5 265.3 L370.6 267.5 L370.7 269.7 L370.9 271.8 L371.0 273.9 L371.1 275.9 L371.3 277.8 L371.5 279.6 L371.6 281.4 L371.8 283.2 L371.9 285.1 L372.0 286.9 L372.1 288.7 L372.1 290.5 L372.1 292.3 L372.2 294.3 L372.3 296.5 L372.4 299.0 L372.6 301.7 L372.7 304.5 L372.9 307.4 L373.0 310.2 L373.2 312.9 L373.4 315.5 L373.5 318.1 L373.7 320.7 L373.9 323.2 L374.1 325.5 L374.3 327.7 L374.5 329.7 L374.8 331.5 L375.1 333.3 L375.4 334.8 L375.7 336.3 L376.0 337.6 L376.3 338.7 L376.7 339.7 L377.1 340.5 L377.5 341.2 L377.9 341.9 L378.4 342.6 L378.9 343.3 L379.4 344.0 L380.0 344.7 L380.6 345.4 L381.1 346.0 L381.7 346.7 L382.3 347.4 L382.8 348.2 L383.4 348.9 L384.0 349.6 L384.5 350.3 L385.0 351.0 L385.5 351.6 L385.9 352.2 L386.3 352.8 L386.6 353.4 L387.0 353.9 L387.4 354.4 L387.8 354.9 L388.2 355.4 L388.6 355.9 L388.9 356.3 L389.3 356.7 L389.7 357.1 L390.1 357.4 L390.4 357.7 L390.7 357.9 L391.1 358.2 L391.5 358.3 L392.0 358.5 L392.6 358.6 L393.4 358.7 L394.2 358.8 L395.0 358.9 L395.9 358.9 L396.7 358.9 L397.5 358.9 L398.3 358.8 L399.1 358.8 L399.9 358.7 L400.7 358.6 L401.4 358.5 L402.1 358.4 L402.7 358.3 L403.3 358.2 L403.8 358.1 L404.4 358.1 L404.9 358.1 L405.4 358.2 L405.9 358.3 L406.4 358.5 L406.9 358.7 L407.3 358.9 L407.8 359.1 L408.3 359.2 L408.7 359.4 L409.2 359.5 L409.7 359.6 L410.2 359.7 L410.7 359.7 L411.2 359.6 L411.8 359.5 L412.3 359.4 L412.9 359.2 L413.5 359.0 L414.2 358.8 L414.9 358.6 L415.7 358.3 L416.6 358.0 L417.4 357.7 L418.2 357.4 L418.9 357.1 L419.6 356.8 L420.2 356.6 L420.8 356.3 L421.3 356.0 L421.9 355.8 L422.4 355.6 L422.9 355.4 L423.4 355.2 L423.9 355.1 L424.4 354.9 L424.9 354.8 L425.3 354.8 L425.7 354.8 L426.1 354.9 L426.4 355.0 L426.8 355.1 L427.2 355.3 L427.6 355.6 L428.0 355.9 L428.5 356.4 L429.0 356.8 L429.5 357.4 L430.0 357.9 L430.5 358.5 L431.1 359.1 L431.7 359.8 L432.3 360.5 L432.9 361.3 L433.5 362.0 L434.1 362.6 L434.7 363.2 L435.3 363.8 L435.9 364.3 L436.4 364.8 L437.0 365.3 L437.6 365.8 L438.2 366.3 L438.8 366.8 L439.4 367.2 L439.9 367.7 L440.5 368.1 L441.1 368.5 L441.7 368.8 L442.3 369.2 L442.9 369.4 L443.5 369.7 L444.1 369.9 L444.6 370.2 L445.1 370.5 L445.6 370.8 L446.0 371.0 L446.4 371.3 L446.9 371.5 L447.5 371.6 L447.7 371.7 L447.3 371.8 L446.9 371.7 L447.2 371.7 L448.7 371.7 L452.0 371.6 L456.9 371.6 L462.9 371.6 L470.0 371.6 L478.5 371.6 L488.5 371.6 L500.0 371.6 L513.9 371.6 L530.4 371.6 L548.3 371.6 L566.6 371.6 L584.2 371.6 L600.0 371.6 L614.8 371.6 L629.6 371.6 L643.7 371.6 L656.4 371.6 L667.0 371.6 L674.9 371.6" fill="none" stroke="#0f0" stroke-width="2.0" stroke-linejoin="round" stroke-linecap="round" clip-path="url(#c2)"/>
</g>
<g id="panel3">
<path d="M74.2 552.4 L77.2 552.4 L81.5 552.4 L86.6 552.5 L91.8 552.5 L96.4 552.5 L100.0 552.4 L102.4 552.3 L104.2 552.2 L105.5 552.0 L106.5 551.8 L107.3 551.6 L108.1 551.5 L108.8 551.4 L109.3 551.4 L109.6 551.4 L109.9 551.3 L110.1 551.2 L110.4 551.0 L110.8 550.7 L111.1 550.4 L111.5 550.0 L111.9 549.6 L112.2 549.0 L112.6 548.4 L113.0 547.7 L113.3 546.8 L113.7 545.9 L114.1 544.9 L114.4 543.8 L114.8 542.5 L115.2 541.1 L115.5 539.5 L115.9 537.8 L116.3 536.0 L116.7 534.1 L117.0 532.2 L117.3 530.2 L117.7 528.1 L118.0 525.9 L118.3 523.6 L118.6 521.2 L118.9 518.8 L119.2 516.3 L119.5 513.7 L119.8 511.0 L120.1 508.2 L120.4 505.4 L120.7 502.6 L121.0 499.7 L121.2 496.7 L121.5 493.6 L121.7 490.6 L122.0 487.6 L122.2 484.8 L122.4 482.1 L122.6 479.6 L122.8 477.1 L122.9 474.7 L123.1 472.3 L123.2 470.0 L123.3 467.8 L123.4 465.6 L123.5 463.5 L123.5 461.4 L123.6 459.3 L123.7 457.0 L123.8 454.7 L124.0 452.3 L124.2 449.9 L124.3 447.4 L124.5 444.9 L124.7 442.2 L124.9 439.4 L125.1 436.5 L125.3 433.5 L125.5 430.4 L125.7 427.4 L125.9 424.4 L126.1 421.4 L126.3 418.3 L126.5 415.2 L126.7 412.2 L126.9 409.3 L127.1 406.6 L127.3 404.0 L127.4 401.6 L127.6 399.2 L127.8 397.0 L127.9 395.0 L128.1 393.3 L128.3 391.8 L128.5 390.3 L128.6 389.2 L128.8 388.2 L129.0 387.6 L129.2 387.4 L129.4 387.6 L129.5 388.2 L129.7 389.1 L129.9 390.3 L130.0 391.8 L130.2 393.3 L130.4 395.0 L130.5 397.0 L130.7 399.2 L130.9 401.6 L131.0 404.0 L131.2 406.6 L131.4 409.3 L131.6 412.2 L131.7 415.2 L131.9 418.3 L132.1 421.4 L132.3 424.4 L132.5 427.4 L132.7 430.4 L132.9 433.5 L133.0 436.5 L133.2 439.4 L133.4 442.2 L133.6 444.9 L133.7 447.4 L133.9 449.9 L134.0 452.3 L134.2 454.7 L134.3 457.0 L134.4 459.2 L134.5 461.4 L134.6 463.5 L134.7 465.6 L134.8 467.7 L134.9 470.0 L135.0 472.4 L135.1 474.8 L135.2 477.3 L135.2 479.8 L135.3 482.3 L135.4 484.8 L135.5 487.3 L135.6 489.7 L135.7 492.2 L135.8 494.7 L135.9 497.1 L136.0 499.6 L136.1 502.1 L136.3 504.5 L136.5 507.0 L136.6 509.5 L136.8 511.9 L137.0 514.4 L137.2 516.9 L137.4 519.4 L137.6 522.0 L137.8 524.5 L138.0 526.9 L138.2 529.2 L138.4 531.4 L138.7 533.5 L138.9 535.6 L139.2 537.5 L139.4 539.3 L139.7 541.0 L140.0 542.5 L140.2 544.0 L140.5 545.3 L140.8 546.4 L141.1 547.5 L141.4 548.4 L141.7 549.2 L142.1 549.8 L142.5 550.2 L142.8 550.6 L143.3 551.0 L143.7 551.3 L143.6 551.6 L142.9 551.8 L142.2 552.0 L142.2 552.2 L143.6 552.3 L147.0 552.4 L152.4 552.5 L159.2 552.5 L167.5 552.5 L177.0 552.4 L187.9 552.4 L200.0 552.4 L214.5 552.4 L231.5 552.4 L249.9 552.4 L268.3 552.4 L285.4 552.4 L300.0 552.4 L312.4 552.4 L323.6 552.4 L333.6 552.4 L342.2 552.4 L349.4 552.4 L355.0 552.4 L358.5 552.4 L359.8 552.3 L359.7 552.2 L358.9 552.2 L358.0 552.1 L358.0 552.0 L358.6 551.9 L359.3 551.8 L360.0 551.6 L360.7 551.5 L361.4 551.3 L362.0 551.2 L362.6 551.0 L363.2 550.9 L363.8 550.7 L364.4 550.5 L364.9 550.3 L365.5 550.2 L366.1 550.1 L366.6 550.0 L367.1 550.0 L367.6 549.9 L368.3 549.9 L369.0 549.9 L369.8 549.9 L370.7 550.0 L371.6 550.0 L372.6 550.1 L373.7 550.1 L375.0 550.2 L376.4 550.2 L377.9 550.3 L379.4 550.3 L381.1 550.4 L383.0 550.4 L385.0 550.5 L387.2 550.6 L389.6 550.6 L392.2 550.7 L394.8 550.8 L397.4 550.8 L400.0 550.9 L402.5 551.0 L405.1 551.1 L407.6 551.1 L410.1 551.2 L412.6 551.3 L415.0 551.4 L417.3 551.5 L419.7 551.6 L421.9 551.7 L424.1 551.8 L426.1 551.9 L428.0 552.0 L429.3 552.1 L430.1 552.2 L430.7 552.2 L431.6 552.3 L433.2 552.4 L436.0 552.4 L440.3 552.4 L445.7 552.4 L451.9 552.4 L458.4 552.4 L464.6 552.4 L470.0 552.4 L474.9 552.4 L479.6 552.4 L484.0 552.5 L488.1 552.5 L491.8 552.5 L495.0 552.4 L497.5 552.3 L499.4 552.1 L500.9 551.9 L502.2 551.7 L503.5 551.5 L505.0 551.3 L506.7 551.2 L508.3 551.1 L510.0 551.0 L511.7 550.9 L513.3 550.8 L515.0 550.8 L516.7 550.8 L518.3 550.9 L520.0 551.0 L521.7 551.1 L523.3 551.2 L525.0 551.2 L526.7 551.1 L528.3 551.0 L530.0 550.9 L531.7 550.8 L533.3 550.7 L535.0 550.6 L536.7 550.6 L538.3 550.6 L540.0 550.7 L541.7 550.7 L543.3 550.8 L545.0 550.8 L546.7 550.8 L548.3 550.7 L550.0 550.6 L551.7 550.5 L553.3 550.5 L555.0 550.5 L556.6 550.6 L558.1 550.7 L559.7 550.8 L561.3 551.0 L563.0 551.1 L565.0 551.2 L567.2 551.3 L569.4 551.3 L571.9 551.4 L574.4 551.5 L577.2 551.5 L580.0 551.5 L583.0 551.5 L586.3 551.4 L589.7 551.3 L593.1 551.3 L596.6 551.3 L600.0 551.3 L603.2 551.4 L606.3 551.6 L609.4 551.9 L612.6 552.1 L616.1 552.3 L620.0 552.4 L624.5 552.3 L629.4 552.2 L634.7 552.0 L640.0 551.7 L645.2 551.6 L650.0 551.5 L654.7 551.6 L659.6 551.7 L664.3 551.9 L668.6 552.1 L672.2 552.3 L674.9 552.4" fill="none" stroke="#000" stroke-width="2.0" stroke-linejoin="round" stroke-linecap="round" clip-path="url(#c3)"/>
<path d="M133.0 552.4 L133.2 552.3 L133.5 552.2 L133.8 552.0 L134.1 551.8 L134.5 551.7 L134.8 551.5 L135.1 551.4 L135.5 551.3 L135.9 551.2 L136.3 551.0 L136.7 550.8 L137.0 550.5 L137.3 550.1 L137.6 549.7 L137.9 549.1 L138.2 548.5 L138.5 547.8 L138.8 547.0 L139.1 546.0 L139.3 544.9 L139.6 543.7 L139.8 542.4 L140.1 541.1 L140.3 539.6 L140.5 538.0 L140.7 536.4 L140.9 534.6 L141.0 532.8 L141.2 531.0 L141.4 529.2 L141.6 527.4 L141.8 525.5 L142.0 523.5 L142.2 521.7 L142.4 520.1 L142.6 518.8 L142.7 517.8 L142.9 517.2 L143.0 516.7 L143.1 516.4 L143.1 516.1 L143.2 515.9 M143.2 515.9 L143.5 515.6 L324.4 513.7 L324.6 513.0 M324.6 513.0 L324.7 511.7 L324.9 509.9 L325.2 507.7 L325.5 505.4 L325.7 503.0 L326.0 500.6 L326.3 498.2 L326.6 495.7 L326.9 493.1 L327.2 490.5 L327.5 488.0 L327.8 485.6 L328.1 483.3 L328.4 481.0 L328.7 478.7 L329.0 476.6 L329.4 474.6 L329.7 472.8 L330.1 471.2 L330.4 469.7 L330.8 468.5 L331.2 467.3 L331.6 466.2 L332.0 465.3 L332.4 464.5 L332.9 463.8 L333.3 463.3 L333.8 462.8 L334.2 462.4 L334.6 462.1 L335.0 461.8 L335.3 461.7 L335.7 461.5 L336.0 461.5 L336.4 461.6 L336.7 461.7 L337.1 461.9 L337.4 462.1 L337.8 462.4 L338.2 462.8 L338.5 463.4 L338.9 464.2 L339.3 465.2 L339.6 466.4 L339.9 467.7 L340.3 469.2 L340.6 470.9 L341.0 472.8 L341.4 474.9 L341.7 477.2 L342.1 479.6 L342.5 482.3 L342.8 485.0 L343.2 487.8 L343.6 490.8 L343.9 494.0 L344.3 497.3 L344.6 500.6 L345.0 503.9 L345.3 507.0 L345.6 510.0 L346.0 513.0 L346.3 515.9 L346.7 518.8 L347.0 521.5 L347.4 524.1 L347.8 526.6 L348.1 528.9 L348.5 531.2 L348.9 533.3 L349.2 535.2 L349.6 537.0 L349.9 538.6 L350.3 540.1 L350.6 541.3 L351.0 542.5 L351.3 543.5 L351.7 544.4 L352.1 545.2 L352.5 545.8 L353.0 546.3 L353.4 546.6 L353.8 546.9 L354.3 547.0 L354.8 547.0 L355.2 546.9 L355.7 546.6 L356.1 546.2 L356.6 545.7 L357.1 545.1 L357.6 544.4 L358.1 543.5 L358.7 542.5 L359.2 541.4 L359.8 540.3 L360.3 539.1 L360.8 537.8 L361.4 536.3 L361.9 534.8 L362.4 533.3 L363.0 531.8 L363.5 530.5 L364.0 529.3 L364.6 528.1 L365.1 527.0 L365.6 525.9 L366.2 525.0 L366.7 524.1 L367.2 523.3 L367.8 522.7 L368.3 522.1 L368.9 521.6 L369.4 521.2 L369.9 520.9 L370.4 520.6 L370.8 520.5 L371.2 520.4 L371.6 520.4 L372.1 520.4 L372.5 520.5 L372.9 520.6 L373.4 520.8 L373.8 521.0 L374.3 521.3 L374.7 521.6 L375.2 522.0 L375.7 522.5 L376.2 523.0 L376.7 523.6 L377.3 524.2 L377.8 524.7 L378.4 525.2 L379.0 525.6 L379.5 526.0 L380.1 526.4 L380.7 526.6 L381.3 526.8 L381.9 526.8 L382.5 526.6 L383.0 526.4 L383.6 526.0 L384.2 525.4 L384.7 524.8 L385.3 524.1 L385.9 523.3 L386.4 522.3 L387.0 521.3 L387.5 520.1 L388.1 518.9 L388.6 517.7 L389.1 516.4 L389.7 515.0 L390.2 513.5 L390.8 512.0 L391.3 510.5 L391.8 509.1 L392.3 507.7 L392.7 506.4 L393.2 505.0 L393.6 503.7 L394.1 502.6 L394.5 501.7 L394.9 501.0 L395.4 500.5 L395.8 500.2 L396.2 500.0 L396.7 499.7 L397.1 499.5 L397.5 499.3 L398.0 499.2 L398.4 499.1 L398.9 499.0 L399.3 498.8 L399.7 498.4 L400.1 497.9 L400.4 497.4 L400.7 496.8 L401.1 496.0 L401.4 495.2 L401.8 494.2 L402.2 493.0 L402.7 491.7 L403.1 490.2 L403.6 488.7 L404.1 487.1 L404.6 485.6 L405.1 484.0 L405.6 482.4 L406.2 480.8 L406.7 479.2 L407.3 477.6 L407.8 476.0 L408.3 474.5 L408.9 473.1 L409.5 471.7 L410.0 470.3 L410.5 468.9 L411.0 467.4 L411.4 465.8 L411.8 464.2 L412.2 462.5 L412.5 460.8 L412.9 459.2 L413.2 457.8 L413.5 456.5 L413.8 455.3 L414.1 454.2 L414.3 453.1 L414.6 452.2 L414.9 451.4 L415.2 450.7 L415.5 450.1 L415.8 449.5 L416.2 449.1 L416.5 448.9 L416.8 448.8 L417.1 448.8 L417.4 449.0 L417.6 449.3 L417.9 449.7 L418.2 450.4 L418.5 451.4 L418.8 452.7 L419.2 454.3 L419.5 456.1 L419.9 458.1 L420.2 460.1 L420.6 462.1 L421.0 464.1 L421.3 466.1 L421.7 468.3 L422.0 470.4 L422.4 472.6 L422.8 474.9 L423.2 477.3 L423.6 479.8 L424.1 482.3 L424.5 484.9 L424.9 487.3 L425.3 489.5 L425.7 491.5 L426.0 493.3 L426.4 495.0 L426.7 496.6 L427.1 498.3 L427.4 500.0 L427.7 501.8 L428.0 503.7 L428.3 505.6 L428.6 507.4 L428.9 509.3 L429.2 511.0 L429.5 512.7 L429.8 514.3 L430.1 515.9 L430.4 517.4 L430.6 518.9 L430.9 520.3 L431.2 521.6 L431.4 522.9 L431.7 524.1 L431.9 525.2 L432.1 526.4 L432.4 527.6 L432.7 528.8 L432.9 530.1 L433.2 531.4 L433.5 532.6 L433.7 533.8 L434.0 535.0 L434.3 536.1 L434.6 537.3 L434.9 538.4 L435.2 539.5 L435.4 540.5 L435.7 541.4 L435.9 542.2 L436.2 543.0 L436.4 543.8 L436.6 544.4 L436.8 545.0 L437.0 545.6 L437.2 546.1 L437.5 546.5 L437.7 546.9 L437.9 547.2 L438.2 547.6 L438.4 547.9 L438.6 548.2 L438.9 548.6 L439.1 548.9 L439.3 549.2 L439.5 549.4 L439.8 549.7 L440.1 549.9 L440.4 550.2 L440.7 550.4 L441.0 550.6 L441.3 550.7 L441.6 550.9 L441.9 551.1 L442.3 551.2 L442.7 551.3 L443.1 551.4 L443.4 551.6 L443.8 551.7 L444.2 551.9 L444.6 552.1 L445.0 552.3 L445.4 552.5 L445.8 552.7 L446.0 552.8 M458.0 552.8 L458.4 552.8 L458.8 552.7 L459.3 552.7 L460.0 552.6 L460.9 552.5 L462.0 552.4 L463.4 552.3 L465.0 552.1 L466.8 551.9 L468.8 551.7 L470.7 551.5 L472.5 551.3 L474.3 551.2 L476.1 551.0 L478.0 550.9 L479.8 550.8 L481.5 550.7 L483.0 550.6 L484.3 550.5 L485.5 550.4 L486.6 550.4 L487.7 550.3 L488.8 550.3 L490.0 550.3 L491.4 550.3 L492.9 550.4 L494.5 550.4 L496.1 550.5 L497.5 550.6 L498.8 550.6 L499.9 550.6 L500.9 550.6 L501.7 550.6 L502.5 550.5 L503.3 550.4 L504.0 550.3 L504.7 550.1 L505.3 549.9 L505.9 549.6 L506.5 549.4 L507.0 549.1 L507.6 548.9 L508.2 548.7 L508.7 548.5 L509.3 548.4 L509.9 548.3 L510.5 548.2 L511.1 548.2 L511.8 548.3 L512.5 548.5 L513.2 548.7 L513.9 548.9 L514.7 549.2 L515.4 549.4 L516.1 549.6 L516.9 549.9 L517.6 550.2 L518.3 550.4 L519.1 550.5 L519.8 550.6 L520.5 550.5 L521.3 550.4 L522.0 550.2 L522.7 549.9 L523.5 549.7 L524.2 549.4 L524.9 549.1 L525.6 548.8 L526.4 548.5 L527.1 548.2 L527.8 547.9 L528.6 547.7 L529.4 547.5 L530.3 547.4 L531.1 547.4 L532.0 547.3 L532.9 547.3 L533.8 547.3 L534.7 547.3 L535.6 547.4 L536.4 547.4 L537.3 547.5 L538.2 547.6 L539.1 547.7 L540.0 547.8 L540.9 548.0 L541.8 548.1 L542.7 548.2 L543.5 548.4 L544.3 548.5 L545.0 548.6 L545.6 548.7 L546.2 548.9 L546.7 548.9 L547.3 549.0 L547.9 548.9 L548.6 548.7 L549.3 548.4 L550.1 548.1 L550.8 547.7 L551.5 547.4 L552.2 547.1 L552.8 546.9 L553.4 546.6 L554.0 546.4 L554.6 546.3 L555.1 546.1 L555.7 546.1 L556.3 546.1 L556.9 546.3 L557.5 546.5 L558.0 546.7 L558.6 546.9 L559.2 547.1 L559.8 547.3 L560.4 547.6 L561.0 547.9 L561.5 548.1 L562.1 548.3 L562.7 548.5 L563.2 548.6 L563.7 548.7 L564.2 548.8 L564.7 548.8 L565.3 548.8 L566.0 548.7 L566.8 548.6 L567.8 548.5 L568.8 548.3 L569.9 548.1 L571.0 547.9 L572.0 547.7 L573.0 547.5 L574.1 547.4 L575.2 547.2 L576.3 547.1 L577.2 546.9 L578.1 546.8 L578.8 546.7 L579.5 546.7 L580.1 546.6 L580.6 546.6 L581.1 546.5 L581.6 546.3 L582.1 546.1 L582.6 545.8 L583.0 545.5 L583.4 545.1 L583.9 544.7 L584.3 544.2 L584.7 543.6 L585.2 542.9 L585.6 542.1 L586.0 541.4 L586.5 540.6 L586.9 539.8 L587.3 539.1 L587.8 538.3 L588.2 537.5 L588.6 536.8 L589.1 536.1 L589.5 535.4 L590.0 534.7 L590.4 534.1 L590.9 533.4 L591.4 532.8 L591.8 532.3 L592.2 531.9 L592.5 531.6 L592.8 531.3 L593.1 531.1 L593.3 531.0 L593.6 531.0 L593.9 531.0 L594.3 531.1 L594.6 531.2 L595.0 531.4 L595.4 531.7 L595.8 532.0 L596.2 532.4 L596.6 532.9 L596.9 533.4 L597.2 534.1 L597.6 534.7 L597.9 535.5 L598.3 536.3 L598.7 537.2 L599.1 538.2 L599.6 539.3 L600.0 540.4 L600.5 541.5 L600.9 542.4 L601.3 543.2 L601.7 544.0 L602.1 544.7 L602.6 545.3 L603.0 545.9 L603.5 546.4 L604.0 546.8 L604.6 547.2 L605.1 547.5 L605.7 547.8 L606.4 548.0 L607.0 548.2 L607.7 548.3 L608.4 548.4 L609.1 548.4 L609.9 548.4 L610.7 548.4 L611.4 548.5 L612.1 548.6 L612.8 548.8 L613.5 549.0 L614.3 549.2 L615.0 549.4 L615.8 549.6 L616.6 549.8 L617.5 550.0 L618.5 550.2 L619.4 550.4 L620.3 550.5 L621.1 550.6 L621.9 550.6 L622.6 550.6 L623.4 550.5 L624.1 550.4 L624.7 550.2 L625.4 549.9 L626.0 549.5 L626.6 549.0 L627.2 548.4 L627.8 547.8 L628.3 547.2 L628.9 546.8 L629.5 546.5 L630.1 546.2 L630.6 546.0 L631.2 545.8 L631.8 545.7 L632.4 545.6 L633.0 545.6 L633.6 545.7 L634.2 545.9 L634.8 546.0 L635.4 546.2 L636.0 546.4 L636.6 546.6 L637.1 546.8 L637.7 547.0 L638.3 547.2 L638.9 547.3 L639.5 547.5 L640.2 547.6 L640.9 547.7 L641.6 547.8 L642.3 547.9 L643.1 548.1 L643.8 548.2 L644.5 548.4 L645.3 548.6 L646.1 548.8 L646.9 549.0 L647.6 549.2 L648.2 549.4 L648.7 549.5 L649.1 549.7 L649.4 549.8 L649.8 549.9 L650.2 549.9 L650.8 549.9 L651.5 549.8 L652.4 549.6 L653.3 549.4 L654.2 549.2 L655.2 549.0 L656.1 548.9 L657.0 548.9 L657.8 548.9 L658.6 548.9 L659.5 549.0 L660.4 549.0 L661.4 549.1 L662.5 549.2 L663.6 549.3 L664.8 549.4 L666.0 549.5 L667.2 549.7 L668.4 549.8 L669.6 549.9 L670.8 550.1 L672.1 550.2 L673.2 550.4 L674.2 550.5 L674.9 550.6" fill="none" stroke="#f00" stroke-width="2.0" stroke-linejoin="round" stroke-linecap="round" clip-path="url(#c3)"/>
</g>
<g stroke="#000" fill="none" stroke-linecap="butt">
<line x1="74.2" y1="8.8" x2="74.2" y2="553.4" stroke-width="2"/>
<line x1="674.9" y1="8.8" x2="674.9" y2="553.4" stroke-width="2"/>
<line x1="73.2" y1="9.8" x2="675.9" y2="9.8" stroke-width="2.1"/>
<line x1="73.2" y1="190.5" x2="675.9" y2="190.5" stroke-width="2.8"/>
<line x1="73.2" y1="372.0" x2="675.9" y2="372.0" stroke-width="1.9"/>
<line x1="73.2" y1="552.3" x2="675.9" y2="552.3" stroke-width="2.2"/>
<path d="M111.7 190.5 v-5.5 M149.3 190.5 v-9.8 M186.8 190.5 v-5.5 M224.4 190.5 v-9.8 M261.9 190.5 v-5.5 M299.5 190.5 v-9.8 M337.0 190.5 v-5.5 M374.5 190.5 v-9.8 M412.1 190.5 v-5.5 M449.6 190.5 v-9.8 M487.2 190.5 v-5.5 M524.7 190.5 v-9.8 M562.3 190.5 v-5.5 M599.8 190.5 v-9.8 M637.4 190.5 v-5.5 M111.7 371.6 v-5.5 M149.3 371.6 v-9.8 M186.8 371.6 v-5.5 M224.4 371.6 v-9.8 M261.9 371.6 v-5.5 M299.5 371.6 v-9.8 M337.0 371.6 v-5.5 M374.5 371.6 v-9.8 M412.1 371.6 v-5.5 M449.6 371.6 v-9.8 M487.2 371.6 v-5.5 M524.7 371.6 v-9.8 M562.3 371.6 v-5.5 M599.8 371.6 v-9.8 M637.4 371.6 v-5.5 M111.7 552.3 v-5.5 M149.3 552.3 v-9.8 M186.8 552.3 v-5.5 M224.4 552.3 v-9.8 M261.9 552.3 v-5.5 M299.5 552.3 v-9.8 M337.0 552.3 v-5.5 M374.5 552.3 v-9.8 M412.1 552.3 v-5.5 M449.6 552.3 v-9.8 M487.2 552.3 v-5.5 M524.7 552.3 v-9.8 M562.3 552.3 v-5.5 M599.8 552.3 v-9.8 M637.4 552.3 v-5.5" stroke-width="1.7"/>
<path d="M74.2 160.4 h5.2 M74.2 130.3 h9.7 M74.2 100.2 h5.2 M74.2 70.0 h9.7 M74.2 39.9 h5.2 M74.2 341.4 h5.2 M74.2 311.2 h9.7 M74.2 281.1 h5.2 M74.2 250.9 h9.7 M74.2 220.7 h5.2 M74.2 522.2 h5.2 M74.2 492.1 h9.7 M74.2 461.9 h5.2 M74.2 431.8 h9.7 M74.2 401.7 h5.2" stroke-width="2.0"/>
</g>
<g fill="none">
<line x1="537.7" y1="224.7" x2="593.5" y2="224.7" stroke="#000" stroke-width="1.3"/>
<line x1="537.7" y1="255.8" x2="593.5" y2="255.8" stroke="#f00" stroke-width="1.7"/>
<line x1="537.7" y1="287.1" x2="593.5" y2="287.1" stroke="#0f0" stroke-width="1.7"/>
<line x1="544.9" y1="409.5" x2="600.7" y2="409.5" stroke="#000" stroke-width="1.7"/>
<line x1="544.9" y1="440.2" x2="600.7" y2="440.2" stroke="#f00" stroke-width="1.7"/>
</g>
<g font-family="'Liberation Serif','Times New Roman',serif" font-weight="bold" font-size="24px" fill="#000">
<text x="599.3" y="232.6">Zn (s)</text>
<text x="599.3" y="263.7">Zn (p)</text>
<text x="599.3" y="294.8">Zn (d)</text>
<text x="605.8" y="416.6" font-size="24.6px">O (s)</text>
<text x="605.8" y="447.3" font-size="24.6px">O (p)</text>
</g>
<g font-family="'Liberation Sans',Arial,sans-serif" fill="#000">
<text x="539.2" y="50.1" font-size="29.6px" font-weight="bold">ZnO</text>
<text transform="translate(18.6 104.8) rotate(-90)" text-anchor="middle" font-size="25.3px" font-weight="bold">Total</text>
<text transform="translate(23 402.5) rotate(-90)" text-anchor="middle" font-size="24.5px" font-weight="bold">partial density of state</text>
<text x="416.7" y="602.9" text-anchor="middle" font-size="24.6px" stroke="#000" stroke-width="0.4">Energy (ev)</text>
<g font-size="20px" stroke="#000" stroke-width="0.35">
<text transform="translate(74.0 577.8) scale(1 1.055)" text-anchor="middle">-20</text>
<text transform="translate(149.1 577.8) scale(1 1.055)" text-anchor="middle">-16</text>
<text transform="translate(224.2 577.8) scale(1 1.055)" text-anchor="middle">-12</text>
<text transform="translate(299.3 577.8) scale(1 1.055)" text-anchor="middle">-8</text>
<text transform="translate(374.3 577.8) scale(1 1.055)" text-anchor="middle">-4</text>
<text transform="translate(449.6 577.8) scale(1 1.055)" text-anchor="middle">0</text>
<text transform="translate(524.7 577.8) scale(1 1.055)" text-anchor="middle">4</text>
<text transform="translate(599.8 577.8) scale(1 1.055)" text-anchor="middle">8</text>
<text transform="translate(674.9 577.8) scale(1 1.055)" text-anchor="middle">12</text>
<text transform="translate(64.1 195.5) scale(1 1.030)" text-anchor="end">0</text>
<text transform="translate(64.1 135.3) scale(1 1.030)" text-anchor="end">4</text>
<text transform="translate(64.1 75.0) scale(1 1.030)" text-anchor="end">8</text>
<text transform="translate(64.1 14.8) scale(1 1.030)" text-anchor="end">12</text>
<text transform="translate(64.1 376.6) scale(1 1.030)" text-anchor="end">0</text>
<text transform="translate(64.1 316.2) scale(1 1.030)" text-anchor="end">4</text>
<text transform="translate(64.1 255.9) scale(1 1.030)" text-anchor="end">8</text>
<text transform="translate(64.1 195.5) scale(1 1.030)" text-anchor="end">12</text>
<text transform="translate(64.1 557.3) scale(1 1.030)" text-anchor="end">0</text>
<text transform="translate(64.1 497.1) scale(1 1.030)" text-anchor="end">2</text>
<text transform="translate(64.1 436.8) scale(1 1.030)" text-anchor="end">4</text>
<text transform="translate(64.1 376.6) scale(1 1.030)" text-anchor="end">6</text>
</g></g>
</svg>
</body>
</html>
